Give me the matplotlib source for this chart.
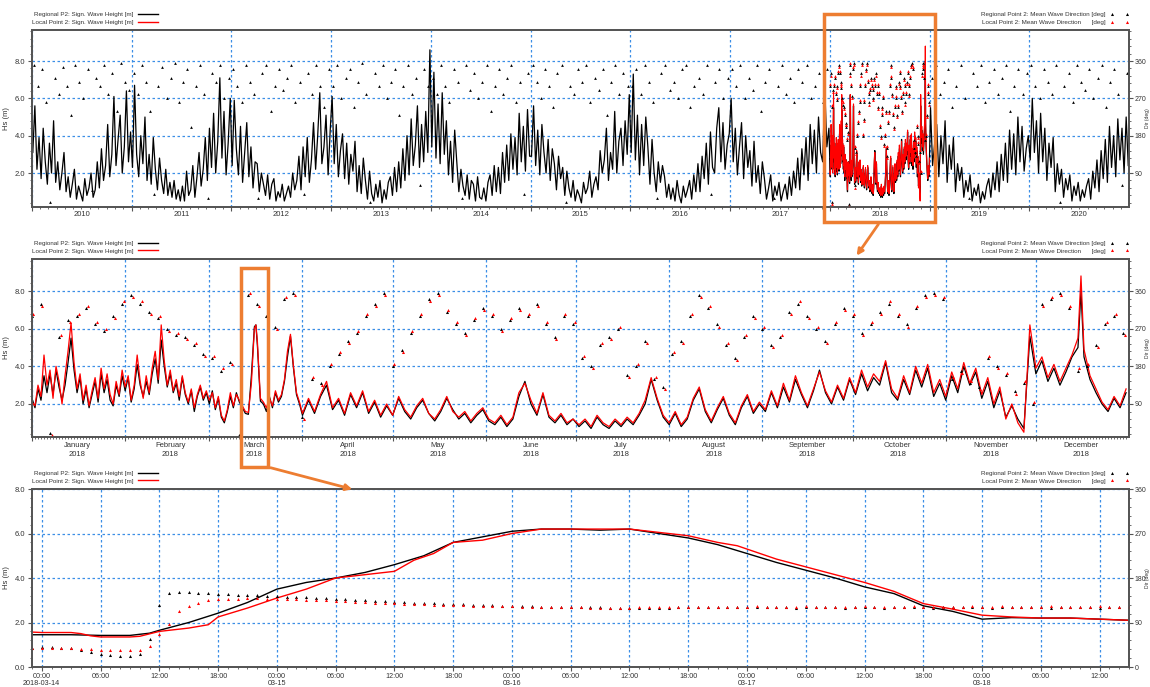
import numpy as np
import pandas as pd
import matplotlib
matplotlib.use("Agg")
from matplotlib import pyplot as plt
import matplotlib.dates as mdates
from matplotlib.lines import Line2D
from matplotlib.patches import Rectangle, FancyArrowPatch
from matplotlib.ticker import MultipleLocator, FormatStrFormatter, NullFormatter, FuncFormatter
from matplotlib.transforms import blended_transform_factory

plt.rcParams['font.family'] = ['Liberation Sans', 'DejaVu Sans']

# ---------------------------------------------------------------- data
# Top panel: regional Hs 2010-2020, 48 samples per year
hs_2010 = [3.1, 5.6, 2.2, 3.9, 1.7, 4.4, 2.6, 1.4, 3.6, 2.0, 4.8, 1.5, 2.6, 1.1, 2.0, 3.1,
           1.0, 1.8, 0.7, 1.4, 2.2, 0.6, 1.3, 0.9, 0.5, 1.7, 0.8, 1.2, 2.0, 0.7, 1.1, 2.6,
           1.2, 3.3, 1.6, 2.4, 4.6, 1.8, 3.0, 6.1, 2.4, 3.8, 5.1, 2.0, 3.4, 6.4, 2.6, 4.2]
hs_2011 = [2.3, 6.7, 3.0, 1.8, 4.0, 2.5, 5.0, 1.6, 3.0, 1.4, 3.9, 2.2, 1.1, 2.8, 1.6, 0.9,
           2.2, 0.8, 1.5, 0.7, 1.6, 0.6, 1.1, 0.5, 1.3, 0.5, 2.1, 0.8, 1.1, 2.4, 0.7, 1.8,
           3.1, 1.3, 2.2, 3.9, 1.6, 4.4, 2.3, 5.2, 2.0, 3.7, 7.1, 2.8, 5.3, 1.9, 3.6, 6.0]
hs_2012 = [2.4, 5.9, 3.3, 1.9, 4.5, 1.5, 3.1, 4.7, 1.8, 3.4, 1.2, 2.6, 2.5, 1.0, 2.0, 1.4,
           0.8, 1.9, 0.6, 1.4, 1.7, 0.5, 1.0, 0.7, 1.4, 0.5, 0.9, 1.3, 0.7, 2.0, 1.1, 1.6,
           2.9, 1.1, 3.4, 1.8, 3.9, 1.5, 2.7, 4.7, 2.2, 4.0, 6.3, 2.5, 3.4, 5.1, 1.9, 4.3]
hs_2013 = [6.1, 2.5, 4.6, 1.8, 3.2, 4.1, 1.7, 3.6, 1.4, 3.0, 2.1, 3.7, 1.0, 2.4, 0.9, 2.8,
           1.6, 0.6, 2.1, 0.9, 0.5, 1.4, 0.7, 1.6, 0.4, 1.1, 0.6, 1.5, 1.8, 0.8, 2.3, 1.0,
           2.6, 1.2, 3.3, 1.6, 4.0, 1.9, 4.9, 2.4, 3.5, 5.6, 2.3, 4.6, 2.6, 5.3, 3.1, 8.6]
hs_2014 = [3.4, 7.4, 2.8, 5.7, 2.5, 6.3, 3.0, 4.8, 1.9, 3.7, 1.5, 4.3, 2.6, 1.0, 2.2, 1.3,
           0.8, 1.9, 0.6, 1.6, 1.4, 0.5, 1.8, 0.7, 0.6, 1.2, 0.5, 1.5, 1.9, 0.8, 2.4, 1.0,
           2.3, 0.9, 3.1, 1.5, 3.5, 1.6, 4.1, 2.2, 3.9, 1.9, 5.2, 2.6, 4.5, 2.1, 5.4, 2.9]
hs_2015 = [2.9, 5.6, 2.4, 4.3, 1.9, 4.6, 3.1, 2.0, 3.8, 1.6, 3.3, 2.5, 1.1, 2.9, 1.7, 2.3,
           0.8, 2.1, 1.2, 0.7, 1.6, 0.5, 1.1, 0.8, 0.4, 1.5, 0.9, 1.2, 2.1, 0.7, 1.4, 1.8,
           1.1, 3.2, 2.0, 2.7, 4.4, 1.6, 3.1, 2.2, 5.3, 2.0, 3.7, 4.4, 2.4, 4.8, 3.0, 6.2]
hs_2016 = [3.1, 7.3, 2.7, 5.1, 1.9, 4.6, 2.4, 5.0, 3.4, 1.4, 3.8, 2.0, 1.0, 2.6, 1.5, 2.4,
           1.8, 0.7, 1.4, 0.6, 1.2, 0.5, 1.6, 0.8, 0.4, 1.3, 0.7, 1.1, 1.6, 0.6, 1.9, 1.0,
           2.5, 1.0, 2.9, 1.7, 3.6, 1.4, 4.2, 2.3, 2.0, 4.4, 5.5, 2.6, 4.7, 2.2, 3.5, 4.1]
hs_2017 = [6.0, 2.6, 4.4, 1.9, 3.4, 4.7, 1.7, 4.0, 2.3, 3.2, 1.3, 3.7, 1.5, 2.4, 0.9, 2.6,
           1.7, 0.6, 1.2, 1.9, 0.5, 1.3, 0.8, 1.5, 0.5, 1.0, 1.4, 0.6, 1.8, 0.8, 2.1, 1.2,
           2.8, 1.1, 3.3, 1.9, 3.9, 1.6, 4.6, 2.5, 4.3, 2.0, 5.0, 3.1, 2.6, 6.6, 3.4, 4.4]
hs_2019 = [5.5, 2.4, 3.6, 4.6, 1.8, 4.0, 2.5, 4.8, 1.5, 3.5, 2.2, 3.9, 1.0, 2.5, 1.6, 2.3,
           0.7, 1.6, 1.0, 1.9, 0.5, 1.2, 0.8, 1.4, 0.4, 1.0, 0.6, 1.3, 1.7, 0.7, 2.0, 1.1,
           2.6, 1.0, 3.0, 1.6, 3.6, 1.5, 4.3, 2.2, 4.1, 1.9, 5.0, 2.6, 4.5, 2.1, 3.3, 4.0]
hs_2020 = [2.7, 6.0, 3.1, 4.8, 2.0, 5.2, 2.6, 4.4, 1.6, 3.6, 2.3, 3.9, 1.0, 2.5, 1.4, 2.2,
           0.7, 1.7, 1.1, 1.9, 0.5, 1.3, 0.8, 1.5, 0.5, 1.1, 0.7, 1.3, 1.7, 0.6, 2.1, 1.2,
           2.7, 1.0, 3.2, 1.7, 3.8, 1.5, 4.5, 2.3, 4.0, 1.8, 4.9, 2.7, 4.4, 2.0, 5.0, 2.4]

# Top panel: regional mean wave direction, 24 samples per year
dir_2010 = [350, 300, 340, 260, 20, 320, 280, 345, 300, 230, 350, 310, 270, 340, 50, 320, 300, 350, 280, 330, 240, 355, 310, 290]
dir_2011 = [330, 280, 350, 310, 240, 40, 300, 345, 270, 320, 355, 260, 310, 340, 200, 300, 350, 280, 30, 330, 310, 350, 270, 320]
dir_2012 = [340, 300, 260, 350, 310, 280, 30, 330, 350, 240, 300, 340, 290, 320, 350, 260, 310, 40, 330, 280, 350, 300, 250, 340]
dir_2013 = [300, 350, 270, 320, 340, 250, 310, 355, 280, 20, 330, 300, 350, 270, 310, 340, 230, 300, 350, 280, 320, 60, 340, 300]
dir_2014 = [320, 280, 350, 300, 260, 340, 310, 30, 350, 290, 330, 270, 310, 350, 240, 300, 340, 280, 320, 350, 260, 310, 40, 330]
dir_2015 = [350, 310, 270, 340, 300, 250, 330, 350, 20, 300, 280, 340, 310, 350, 260, 320, 290, 340, 230, 310, 350, 280, 330, 300]
dir_2016 = [300, 340, 280, 350, 310, 260, 30, 330, 350, 290, 310, 270, 340, 350, 250, 300, 320, 280, 350, 40, 310, 340, 270, 320]
dir_2017 = [340, 300, 350, 270, 320, 290, 350, 240, 310, 340, 30, 300, 350, 280, 320, 260, 340, 310, 350, 270, 300, 330, 260, 340]
dir_2019 = [320, 350, 280, 310, 340, 250, 300, 350, 270, 30, 330, 300, 350, 260, 310, 340, 280, 320, 350, 240, 300, 340, 280, 330]
dir_2020 = [350, 300, 270, 340, 310, 280, 350, 20, 300, 330, 260, 350, 310, 290, 340, 270, 320, 350, 250, 310, 340, 280, 60, 330]

years_hs = {2010: hs_2010, 2011: hs_2011, 2012: hs_2012, 2013: hs_2013, 2014: hs_2014,
            2015: hs_2015, 2016: hs_2016, 2017: hs_2017, 2019: hs_2019, 2020: hs_2020}
years_dir = {2010: dir_2010, 2011: dir_2011, 2012: dir_2012, 2013: dir_2013, 2014: dir_2014,
             2015: dir_2015, 2016: dir_2016, 2017: dir_2017, 2019: dir_2019, 2020: dir_2020}

# Middle panel: 2018, day of year (0 = 1 Jan)
mid_days = (list(range(0, 72)) + [72, 73, 74, 74.5, 75, 76] + list(range(77, 90))
            + list(range(90, 331, 2)) + [332] + list(range(334, 347, 2))
            + [348, 349, 350] + list(range(352, 365, 2)))
mid_hs_black = [
    # Jan
    2.3, 1.8, 2.8, 2.2, 3.5, 2.6, 3.6, 2.5, 3.8, 2.9, 2.2, 3.0, 4.2, 5.5, 3.8, 2.6, 3.4, 2.0, 2.8, 1.8,
    2.5, 3.2, 2.1, 3.6, 2.6, 3.3, 2.2, 1.9, 3.0, 2.4, 3.5,
    # Feb
    2.7, 3.4, 2.1, 2.8, 4.1, 3.0, 2.4, 3.2, 2.5, 3.6, 4.4, 3.1, 5.4, 4.0, 2.9, 3.6, 2.6, 3.1, 2.2, 3.4,
    2.5, 2.0, 2.7, 1.6, 2.4, 2.9, 2.2, 2.6,
    # Mar
    2.0, 2.7, 1.7, 2.3, 1.3, 1.0, 1.6, 2.4, 1.8, 2.6, 2.1, 1.8, 1.5, 1.45, 3.5, 6.1, 6.2, 5.1, 2.15,
    2.0, 1.6, 2.4, 1.8, 2.6, 2.1, 2.4, 3.2, 4.5, 5.6, 3.9, 2.5, 2.0,
    # Apr-May
    1.4, 2.2, 1.5, 2.4, 3.0, 1.7, 2.2, 1.4, 2.5, 1.8, 2.6, 1.5, 2.1, 1.3, 1.9, 1.4, 2.3, 1.6, 1.2, 1.8,
    2.2, 1.5, 1.1, 1.6, 2.3, 1.7, 1.2, 1.5, 1.0, 1.4, 1.7,
    # Jun
    1.1, 0.9, 1.3, 0.8, 1.2, 2.4, 3.2, 2.0, 1.4, 2.5, 1.3, 1.0, 1.4, 0.9, 1.2,
    # Jul
    0.8, 1.1, 0.7, 1.3, 0.9, 0.7, 1.1, 0.8, 1.2, 0.9, 1.4, 2.0, 3.3, 2.2, 1.3,
    # Aug
    0.9, 1.5, 0.8, 1.2, 2.2, 2.8, 1.6, 1.0, 1.7, 2.3, 1.4, 0.9, 1.8, 2.4, 1.5, 2.0,
    # Sep
    1.6, 2.6, 1.8, 2.9, 2.1, 3.3, 2.5, 1.8, 2.7, 3.8, 2.6, 2.0, 2.9, 2.2, 3.3,
    # Oct
    2.5, 3.6, 2.7, 3.4, 3.0, 4.2, 2.6, 2.2, 3.3, 2.5, 3.8, 2.9, 3.9, 2.4, 3.1,
    # Nov
    2.2, 3.5, 2.6, 4.0, 3.0, 3.7, 2.3, 3.2, 1.8, 2.7, 1.3, 1.9, 1.2, 0.7, 5.6,
    # Dec
    3.6, 4.3, 3.2, 3.9, 3.0, 3.7, 4.5, 5.0, 8.0, 4.5, 3.3, 2.6, 2.0, 1.6, 2.3, 1.8, 2.6]
mid_hs_red = [
    # Jan
    2.1, 1.9, 3.0, 2.4, 4.6, 3.0, 3.8, 2.3, 4.0, 3.2, 2.0, 3.5, 4.8, 6.3, 4.2, 2.8, 3.6, 2.2, 3.0, 1.9,
    2.7, 3.4, 2.3, 3.9, 2.8, 3.6, 2.5, 2.0, 3.2, 2.5, 3.8,
    # Feb
    2.9, 3.5, 2.2, 3.0, 4.6, 3.2, 2.3, 3.5, 2.6, 3.9, 4.8, 3.3, 6.2, 4.3, 3.0, 3.8, 2.7, 3.3, 2.4, 3.5,
    2.6, 2.1, 2.8, 1.8, 2.5, 3.0, 2.3, 2.7,
    # Mar
    2.2, 2.6, 1.8, 2.4, 1.4, 1.1, 1.7, 2.6, 1.9, 2.5, 2.2, 1.9, 1.6, 1.55, 3.1, 6.0, 6.2, 5.3, 2.3,
    2.1, 1.8, 2.3, 1.9, 2.7, 2.2, 2.5, 3.3, 4.8, 5.7, 4.0, 2.6, 2.1,
    # Apr-May
    1.5, 2.3, 1.6, 2.5, 3.2, 1.8, 2.3, 1.5, 2.6, 1.9, 2.7, 1.6, 2.2, 1.4, 2.0, 1.4, 2.4, 1.7, 1.3, 1.9,
    2.3, 1.5, 1.2, 1.7, 2.4, 1.6, 1.3, 1.6, 1.1, 1.5, 1.8,
    # Jun
    1.2, 1.0, 1.4, 0.9, 1.3, 2.6, 3.1, 2.2, 1.5, 2.6, 1.4, 1.1, 1.5, 1.0, 1.2,
    # Jul
    0.9, 1.2, 0.8, 1.4, 1.0, 0.8, 1.2, 0.9, 1.3, 1.0, 1.5, 2.2, 3.4, 2.3, 1.4,
    # Aug
    1.0, 1.6, 0.9, 1.3, 2.3, 2.9, 1.7, 1.1, 1.8, 2.4, 1.5, 1.0, 1.9, 2.5, 1.6, 2.1,
    # Sep
    1.7, 2.7, 1.9, 3.1, 2.2, 3.5, 2.6, 1.9, 2.8, 3.7, 2.7, 2.1, 3.0, 2.3, 3.4,
    # Oct
    2.6, 3.8, 2.9, 3.6, 3.2, 4.3, 2.8, 2.3, 3.5, 2.6, 4.0, 3.1, 4.1, 2.6, 3.3,
    # Nov
    2.4, 3.7, 2.8, 4.2, 3.1, 3.9, 2.5, 3.4, 2.0, 2.9, 1.2, 2.0, 1.0, 0.5, 6.2,
    # Dec
    3.9, 4.5, 3.4, 4.1, 3.2, 3.9, 4.6, 5.5, 8.8, 4.9, 3.5, 2.8, 2.1, 1.7, 2.4, 1.9, 2.8]

# Middle panel direction, every third day
mid_dir_days = list(range(0, 366, 3))
mid_dir_black = [300, 330, 20, 250, 290, 300, 320, 280, 265, 300, 330,
                 350, 330, 310, 295, 270, 255, 250, 230, 210,
                 200, 170, 190, 15, 350, 330, 300, 275, 340, 355, 60,
                 150, 140, 180, 210, 240, 260, 300, 330, 355,
                 180, 220, 260, 300, 340, 355, 310, 280, 260, 290, 320,
                 300, 270, 290, 320, 300, 330, 280, 250, 300, 280,
                 200, 180, 230, 250, 270, 160, 180, 240, 150, 130,
                 210, 240, 300, 350, 320, 280, 230, 200, 250, 300,
                 270, 230, 250, 310, 330, 300, 270, 240, 280, 320,
                 300, 260, 280, 310, 330, 300, 280, 320, 350, 355, 340,
                 150, 170, 140, 130, 200, 180, 160, 120, 140, 90,
                 330, 340, 355, 320, 170, 180, 230, 280, 300, 260]
mid_dir_red = [305, 325, 15, 255, 285, 305, 325, 285, 270, 295, 335,
               345, 335, 305, 300, 265, 260, 245, 235, 205,
               205, 175, 185, 10, 355, 325, 305, 270, 345, 350, 55,
               155, 135, 185, 215, 235, 265, 305, 325, 350,
               185, 215, 265, 305, 335, 350, 315, 285, 255, 295, 315,
               305, 265, 295, 315, 305, 325, 285, 245, 305, 285,
               205, 175, 235, 245, 275, 155, 185, 235, 155, 125,
               215, 235, 305, 345, 325, 275, 235, 195, 255, 295,
               275, 225, 255, 305, 335, 295, 275, 235, 285, 315,
               305, 255, 285, 305, 335, 305, 275, 325, 345, 350, 345,
               155, 165, 145, 125, 205, 175, 165, 115, 145, 95,
               325, 345, 350, 325, 175, 185, 225, 285, 305, 255]

# Bottom panel: hours after 2018-03-14 00:00
bot_hours_black = [-1, 0, 3, 6, 9, 11, 12, 15, 18, 21, 24, 27, 30, 33, 36, 39, 42, 45, 48, 51,
                   54, 57, 60, 63, 66, 69, 72, 75, 78, 81, 84, 87, 90, 93, 96, 99, 102, 105, 108, 111]
bot_hs_black = [1.45, 1.45, 1.45, 1.42, 1.42, 1.52, 1.65, 2.0, 2.42, 2.9, 3.5, 3.8, 4.0, 4.25, 4.6,
                5.0, 5.6, 5.85, 6.1, 6.2, 6.2, 6.15, 6.2, 6.0, 5.8, 5.5, 5.1, 4.7, 4.35, 4.0, 3.6,
                3.3, 2.75, 2.5, 2.15, 2.22, 2.2, 2.2, 2.15, 2.1]
bot_hours_red = [-1, 0, 3, 4, 5, 6, 9, 10, 12, 15, 17, 18, 21, 24, 27, 30, 33, 36, 38, 40, 42, 45,
                 48, 51, 54, 57, 60, 63, 66, 69, 71, 72, 75, 78, 81, 84, 87, 90, 93, 96, 99, 102,
                 105, 108, 111]
bot_hs_red = [1.57, 1.55, 1.55, 1.5, 1.4, 1.35, 1.35, 1.38, 1.6, 1.75, 1.9, 2.25, 2.65, 3.1, 3.5,
              4.0, 4.15, 4.3, 4.8, 5.1, 5.6, 5.7, 6.0, 6.2, 6.2, 6.2, 6.2, 6.05, 5.9, 5.6, 5.45,
              5.3, 4.85, 4.5, 4.15, 3.8, 3.4, 2.85, 2.6, 2.33, 2.25, 2.2, 2.2, 2.15, 2.1]
bot_dir_hours = list(range(-1, 112))
bot_dir_black = [38, 40, 40, 39, 38, 35, 30, 26, 24, 22, 22, 27, 57,
                 125, 150, 152, 151, 150, 149, 148, 147, 146, 145, 145, 144,
                 143, 142, 142, 141, 140, 139, 138, 137, 136, 135, 134, 133, 132, 131, 130, 130,
                 129, 128, 127, 127, 126, 125, 125, 124,
                 124, 123, 123, 122, 122, 122, 121, 121, 121, 121, 120, 120, 120, 120, 120, 120,
                 120, 121, 121, 121, 121, 121, 121, 121,
                 122, 121, 121, 122, 121, 120, 121, 122, 121, 121, 120, 121, 122, 121, 120, 121,
                 121, 122, 121, 120, 121, 121, 122, 121,
                 121, 120, 121, 121, 122, 121, 121, 120, 121, 122, 121, 121, 120, 121, 121, 121]
bot_dir_red = [38, 38, 38, 38, 38, 37, 36, 35, 34, 34, 34, 35, 43,
               67, 87, 113, 124, 129, 135, 137, 138, 138, 139, 139, 138,
               138, 137, 137, 136, 135, 135, 134, 133, 132, 131, 130, 130, 129, 128, 128, 127,
               126, 126, 125, 125, 124, 124, 123, 123,
               123, 122, 122, 122, 121, 121, 121, 121, 120, 120, 120, 120, 120, 121, 121, 121,
               121, 121, 121, 122, 122, 122, 122, 122,
               122, 123, 122, 122, 121, 122, 123, 122, 122, 121, 122, 122, 123, 122, 121, 122,
               122, 123, 122, 122, 121, 122, 122, 123,
               122, 122, 123, 122, 121, 122, 122, 123, 122, 122, 121, 122, 123, 122, 122, 122]

month_names = ['January', 'February', 'March', 'April', 'May', 'June', 'July',
               'August', 'September', 'October', 'November', 'December']

GRID = '#3a8ee6'
ORANGE = '#ED7D31'
TXT = '#333333'


def style_axes(ax, ax2, hs_lim, hs_ticks, dir_ticks):
	ax.set_ylim(*hs_lim)
	ax2.set_ylim(hs_lim[0] * 45, hs_lim[1] * 45)  # 2 m <-> 90 deg
	ax.set_yticks(hs_ticks)
	ax.yaxis.set_major_formatter(FormatStrFormatter('%.1f'))
	ax.yaxis.set_minor_locator(MultipleLocator(0.4))
	ax2.set_yticks(dir_ticks)
	ax2.yaxis.set_minor_locator(MultipleLocator(18))
	for a in (ax, ax2):
		for s in a.spines.values():
			s.set_color('#555555')
			s.set_linewidth(1.3)
		a.tick_params(which='major', length=3, width=0.8, color='#555555',
					  labelsize=5.5, labelcolor=TXT, pad=2)
		a.tick_params(which='minor', length=1.6, width=0.6, color='#555555')
	ax2.tick_params(which='major', labelsize=5.0, pad=1)
	ax.grid(True, which='major', color=GRID, ls=(0, (2, 2)), lw=0.9)
	ax.set_ylabel('Hs (m)', fontsize=5.5, color=TXT, labelpad=3)
	# the direction label sits right at the figure edge, as in the original
	ax2.set_ylabel('Dir (deg)', fontsize=3.6, color=TXT)
	ax2.yaxis.set_label_coords(1.0144, 0.5)


def add_legends(ax, ax2):
	lines = [Line2D([], [], color='black', lw=1.0), Line2D([], [], color='red', lw=1.0)]
	leg = ax.legend(lines, ['Regional P2: Sign. Wave Height [m]', 'Local Point 2: Sign. Wave Height [m]'],
					loc='lower left', bbox_to_anchor=(0.0, 1.03), frameon=False, fontsize=4.5,
					markerfirst=False, handlelength=3.2, handletextpad=0.8, labelspacing=0.3,
					borderaxespad=0, borderpad=0)
	for t in leg.get_texts():
		t.set_color(TXT)
	marks = [Line2D([], [], color='black', marker='^', ls='none', ms=2.2, mew=0),
			 Line2D([], [], color='red', marker='^', ls='none', ms=2.2, mew=0)]
	leg2 = ax2.legend(marks, ['Regional Point 2: Mean Wave Direction [deg]',
							  'Local Point 2: Mean Wave Direction      [deg]'],
					  loc='lower right', bbox_to_anchor=(1.0, 1.03), frameon=False, fontsize=4.5,
					  markerfirst=False, numpoints=2, handlelength=3.0, handletextpad=0.8,
					  labelspacing=0.3, borderaxespad=0, borderpad=0)
	for t in leg2.get_texts():
		t.set_color(TXT)


fig = plt.figure(figsize=(11.5, 6.87), dpi=100)
ax_top = fig.add_axes([0.0278, 0.6987, 0.954, 0.2576])
ax_mid = fig.add_axes([0.0278, 0.364, 0.954, 0.259])
ax_bot = fig.add_axes([0.0278, 0.0291, 0.954, 0.2591])
ax_top2 = ax_top.twinx()
ax_mid2 = ax_mid.twinx()
ax_bot2 = ax_bot.twinx()

start18 = pd.Timestamp('2018-01-01')
mid_t = start18 + pd.to_timedelta(mid_days, unit='D')
mid_dir_t = start18 + pd.to_timedelta(mid_dir_days, unit='D')

# ---------------------------------------------------------------- top panel
top_t, top_hs, dir_t, dir_v = [], [], [], []
for y in range(2010, 2021):
	if y == 2018:
		top_t.extend(mid_t)
		top_hs.extend(mid_hs_black)
		continue
	top_t.extend(pd.date_range(f'{y}-01-04', f'{y}-12-28', periods=len(years_hs[y])))
	top_hs.extend(years_hs[y])
	dir_t.extend(pd.date_range(f'{y}-01-08', f'{y}-12-22', periods=len(years_dir[y])))
	dir_v.extend(years_dir[y])

ax_top.plot(top_t, top_hs, color='black', lw=0.9)
ax_top.plot(mid_t, mid_hs_red, color='red', lw=0.8)
ax_top2.plot(dir_t, dir_v, '^', color='black', ms=2.0, mew=0)
ax_top2.plot(mid_dir_t, mid_dir_black, '^', color='black', ms=2.0, mew=0)
ax_top2.plot(mid_dir_t, mid_dir_red, '^', color='red', ms=2.0, mew=0)

style_axes(ax_top, ax_top2, (0.18, 9.66), [2, 4, 6, 8], [90, 180, 270, 360])
ax_top.set_xlim(pd.Timestamp('2010-01-01'), pd.Timestamp('2020-12-31'))
ax_top.xaxis.set_major_locator(mdates.YearLocator())
ax_top.xaxis.set_minor_locator(mdates.MonthLocator())
ax_top.xaxis.set_major_formatter(NullFormatter())
tr = blended_transform_factory(ax_top.transData, ax_top.transAxes)
for y in range(2010, 2021):
	ax_top.text(pd.Timestamp(f'{y}-07-02'), -0.025, str(y), transform=tr, ha='center', va='top',
				fontsize=5.5, color=TXT)
add_legends(ax_top, ax_top2)

# ---------------------------------------------------------------- middle panel
ax_mid.plot(mid_t, mid_hs_black, color='black', lw=0.9)
ax_mid.plot(mid_t, mid_hs_red, color='red', lw=0.9)
ax_mid2.plot(mid_dir_t, mid_dir_black, '^', color='black', ms=2.2, mew=0)
ax_mid2.plot(mid_dir_t + pd.Timedelta(hours=12), mid_dir_red, '^', color='red', ms=2.2, mew=0)

style_axes(ax_mid, ax_mid2, (0.25, 9.7), [2, 4, 6, 8], [90, 180, 270, 360])
ax_mid.set_xlim(start18, pd.Timestamp('2018-12-31 23:59'))
ax_mid.xaxis.set_major_locator(mdates.MonthLocator())
ax_mid.xaxis.set_minor_locator(mdates.DayLocator())
ax_mid.xaxis.set_major_formatter(NullFormatter())
tr = blended_transform_factory(ax_mid.transData, ax_mid.transAxes)
for m, name in enumerate(month_names, start=1):
	ax_mid.text(pd.Timestamp(f'2018-{m:02d}-16'), -0.03, f'{name}\n2018', transform=tr,
				ha='center', va='top', fontsize=5.5, color=TXT, linespacing=1.4)
add_legends(ax_mid, ax_mid2)

# ---------------------------------------------------------------- bottom panel
start_bot = pd.Timestamp('2018-03-14')
ax_bot.plot(start_bot + pd.to_timedelta(bot_hours_black, unit='h'), bot_hs_black,
			color='black', lw=1.0)
ax_bot.plot(start_bot + pd.to_timedelta(bot_hours_red, unit='h'), bot_hs_red,
			color='red', lw=1.0)
dir_hours_t = start_bot + pd.to_timedelta(bot_dir_hours, unit='h')
ax_bot2.plot(dir_hours_t, bot_dir_black, '^', color='black', ms=2.2, mew=0)
ax_bot2.plot(dir_hours_t, bot_dir_red, '^', color='red', ms=2.2, mew=0)

style_axes(ax_bot, ax_bot2, (0.0, 8.0), [0, 2, 4, 6, 8], [0, 90, 180, 270, 360])
ax_bot.set_xlim(pd.Timestamp('2018-03-13 23:00'), pd.Timestamp('2018-03-18 15:00'))
ax_bot.xaxis.set_major_locator(mdates.HourLocator(byhour=[0, 6, 12, 18]))
ax_bot.xaxis.set_minor_locator(mdates.HourLocator())


def hour_fmt(x, pos):
	d = mdates.num2date(x)
	s = d.strftime('%H:%M')
	if d.hour == 0:
		s += '\n' + (d.strftime('%Y-%m-%d') if d.day == 14 else d.strftime('%m-%d'))
	return s


ax_bot.xaxis.set_major_formatter(FuncFormatter(hour_fmt))
ax_bot.tick_params(axis='x', which='major', pad=1.5, labelsize=5.2)
for lbl in ax_bot.get_xticklabels():
	lbl.set_linespacing(1.0)
add_legends(ax_bot, ax_bot2)

# ---------------------------------------------------------------- zoom call-outs
fig.add_artist(Rectangle((0.7165, 0.6769), 0.0965, 0.3028, transform=fig.transFigure,
						 fill=False, ec=ORANGE, lw=2.5, zorder=20))
fig.add_artist(FancyArrowPatch((0.7652, 0.6769), (0.7435, 0.6245), transform=fig.transFigure,
							   arrowstyle='-|>', mutation_scale=9, color=ORANGE, lw=2, zorder=20))
fig.add_artist(Rectangle((0.2096, 0.3202), 0.0235, 0.2897, transform=fig.transFigure,
						 fill=False, ec=ORANGE, lw=2.5, zorder=20))
fig.add_artist(FancyArrowPatch((0.2330, 0.3202), (0.3087, 0.2868), transform=fig.transFigure,
							   arrowstyle='-|>', mutation_scale=9, color=ORANGE, lw=2, zorder=20))

fig.savefig('out.png', dpi=100)
